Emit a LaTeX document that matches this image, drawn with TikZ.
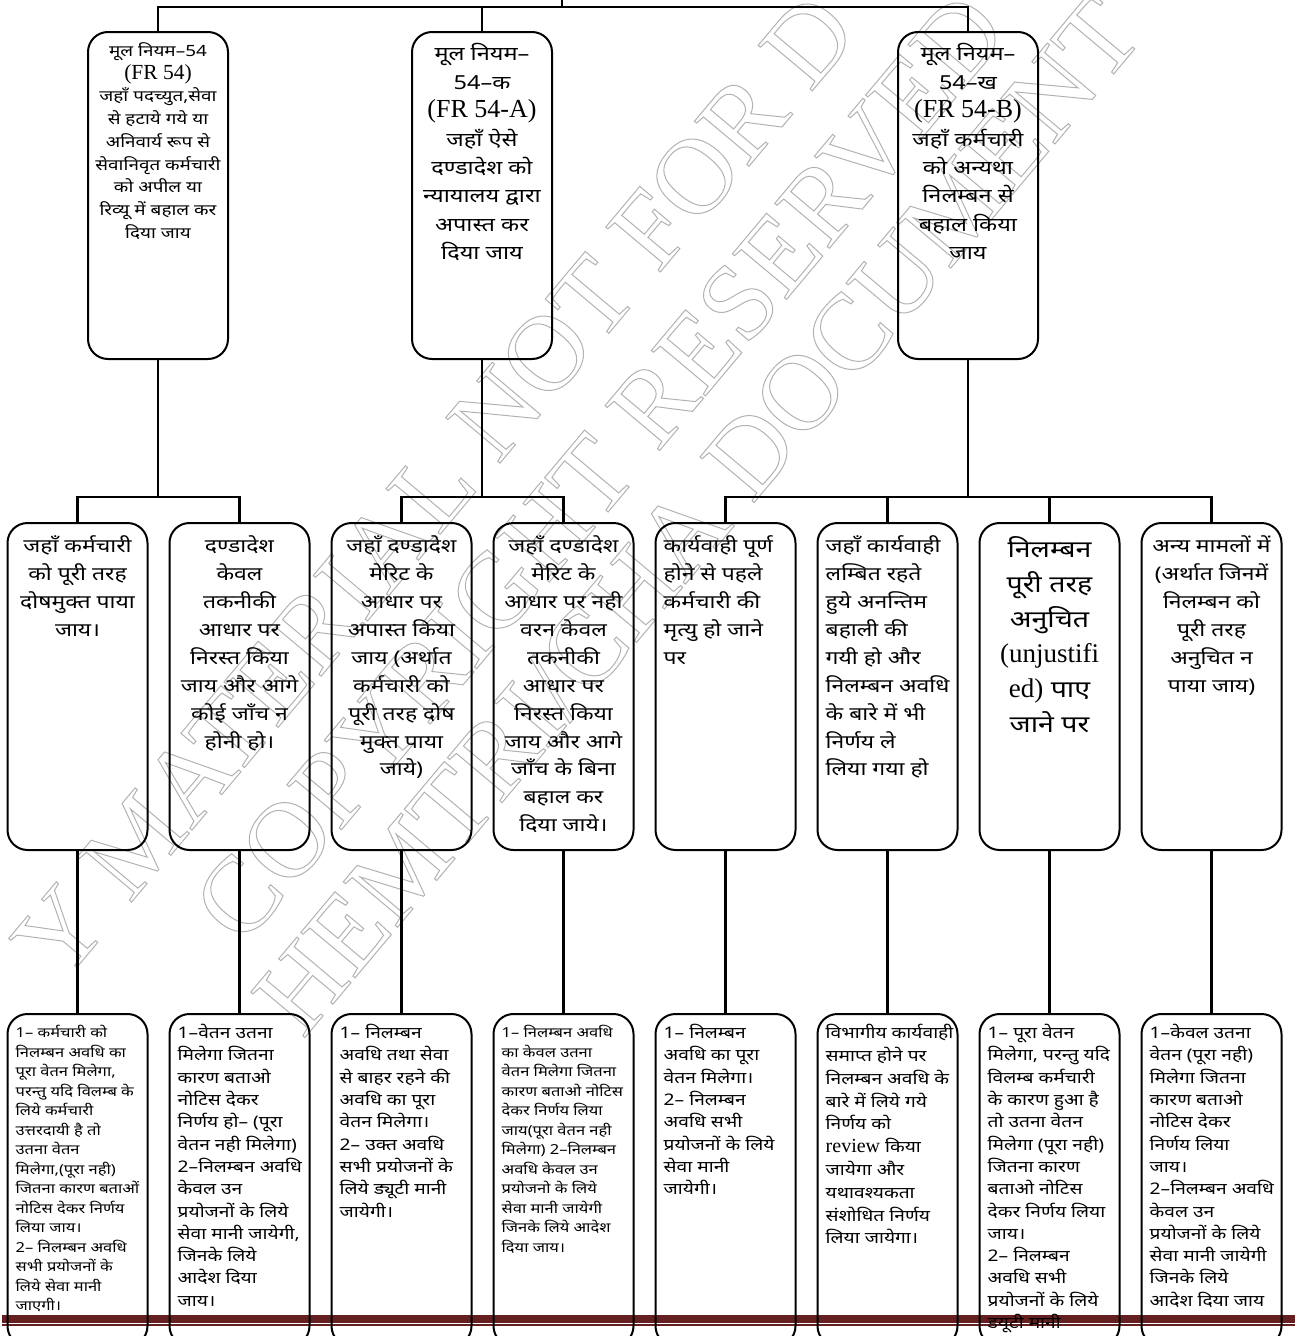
\documentclass[tikz,border=0pt]{standalone}
\usepackage{fontspec}
\setmainfont{Liberation Serif}
\newfontfamily\dvn[Script=Devanagari,FakeStretch=1.22]{Noto Sans}
\newfontfamily\dvs[Script=Devanagari,FakeStretch=1.2]{Noto Sans}
\newfontfamily\wmf{Liberation Serif}
\newcommand\myrule[1]{\rule{0pt}{#1pt}}
\newcommand\fixls{\lineskiplimit=-200pt\relax\lineskip=0pt\relax}
\newcommand\wmon{\special{pdf:literal direct 1 Tr 1 w}}
\newcommand\wmoff{\special{pdf:literal direct 0 Tr}}
\definecolor{bandred}{RGB}{100,32,32}
\tikzset{
  box/.style={draw, line width=2pt, rounded corners=20pt, minimum width=140pt, inner sep=0pt},
  topbox/.style={box, minimum height=327pt},
  midbox/.style={box, minimum height=327pt},
  botbox/.style={box, minimum height=332pt},
  conn/.style={line width=2.4pt},
  ttxt/.style={anchor=north, align=center, inner sep=0pt, font={\dvn\fontsize{19.3}{28.4}\selectfont\fixls}},
  ttxtsmall/.style={anchor=north, align=center, inner sep=0pt, font={\dvn\fontsize{15.5}{22.75}\selectfont\fixls}},
  mtxtc/.style={anchor=north, align=center, inner sep=0pt, font={\dvn\fontsize{18.8}{27.9}\selectfont\fixls}},
  mtxtl/.style={anchor=north west, align=left, inner sep=0pt, font={\dvn\fontsize{18.8}{27.9}\selectfont\fixls}},
  btxt/.style={anchor=north west, align=left, inner sep=0pt, font={\dvs\fontsize{16}{22.3}\selectfont\fixls}},
  btxtsm/.style={anchor=north west, align=left, inner sep=0pt, font={\dvs\fontsize{13.75}{19.5}\selectfont\fixls}},
  wm/.style={anchor=base west, rotate=50, inner sep=0pt, text=gray!60, font={\wmf\fontsize{108}{108}\selectfont}}
}
\begin{document}
\begin{tikzpicture}[x=1pt,y=-1pt]
\useasboundingbox (0,0) rectangle (1295,1336);
\clip (0,0) rectangle (1295,1336);
% watermark
\node[wm] (wmA) at (62,985) {\wmon Y MATERIAL NOT FOR D\wmoff};
\node[wm] (wmB) at (242.5,947.7) {\wmon COPYRIGHT RESERVED\wmoff};
\node[wm] (wmC) at (752,505) {\wmon DOCUMENT\wmoff};
\node[wm, anchor=base east] (wmC0) at (735,525) {\wmon HEMTRI/CHA\wmoff};
% bottom band
\fill[bandred] (2,1315) rectangle (1295,1322.5);
\fill[bandred] (2,1324.3) rectangle (1295,1326);
% top level boxes
\node[topbox] (T1) at (158,195.5) {};
\node[topbox] (T2) at (482,195.5) {};
\node[topbox] (T3) at (968,195.5) {};
% middle and bottom boxes
\foreach \i/\x in {1/77.5,2/239.5,3/401.5,4/563.5,5/725.5,6/887.5,7/1049.5,8/1211.5}{
  \node[midbox] (M\i) at (\x,686.5) {};
  \node[botbox] (B\i) at (\x,1180) {};
}
% connectors
\coordinate (root) at (562,0);
\coordinate (topbar) at (562,7);
\coordinate (mbar) at (0,497);
\draw[conn] (root) -- (topbar);
\draw[conn] (T1.north) -- (T1.north |- topbar) -- (T3.north |- topbar) -- (T3.north);
\draw[conn] (T2.north) -- (T2.north |- topbar);
\draw[conn] (T1.south) -- (T1.south |- mbar);
\draw[conn] (T2.south) -- (T2.south |- mbar);
\draw[conn] (T3.south) -- (T3.south |- mbar);
\draw[conn] (M1.north) -- (M1.north |- mbar) -- (M2.north |- mbar) -- (M2.north);
\draw[conn] (M3.north) -- (M3.north |- mbar) -- (M4.north |- mbar) -- (M4.north);
\draw[conn] (M5.north) -- (M5.north |- mbar) -- (M8.north |- mbar) -- (M8.north);
\draw[conn] (M6.north) -- (M6.north |- mbar);
\draw[conn] (M7.north) -- (M7.north |- mbar);
\foreach \i in {1,...,8}{\draw[conn] (M\i.south) -- (B\i.north);}
% top texts
\node[ttxtsmall] (T1t) at (158,39.2) {\myrule{17.05}मूल नियम–54\\
{\rmfamily\fontsize{21.5}{22.75}\selectfont (FR 54)}\\
जहाँ पदच्युत,सेवा\\
से हटाये गये या\\
अनिवार्य रूप से\\
सेवानिवृत कर्मचारी\\
को अपील या\\
रिव्यू में बहाल कर\\
दिया जाय};
\node[ttxt] (T2t) at (482,39.5) {\myrule{21.23}मूल नियम–\\
54–क\\
{\rmfamily\fontsize{26}{28.4}\selectfont (FR 54-A)}\\
जहाँ ऐसे\\
दण्डादेश को\\
न्यायालय द्वारा\\
अपास्त कर\\
दिया जाय};
\node[ttxt] (T3t) at (968,39.5) {\myrule{21.23}मूल नियम–\\
54–ख\\
{\rmfamily\fontsize{26}{28.4}\selectfont (FR 54-B)}\\
जहाँ कर्मचारी\\
को अन्यथा\\
निलम्बन से\\
बहाल किया\\
जाय};
% middle texts
\node[mtxtc] (M1t) at (77.5,531.8) {\myrule{20.7}जहाँ कर्मचारी\\को पूरी तरह\\दोषमुक्त पाया\\जाय।};
\node[mtxtc] (M2t) at (239.5,531.8) {\myrule{20.7}दण्डादेश\\केवल\\तकनीकी\\आधार पर\\निरस्त किया\\जाय और आगे\\कोई जाँच न\\होनी हो।};
\node[mtxtc] (M3t) at (401.5,531.8) {\myrule{20.7}जहाँ दण्डादेश\\मेरिट के\\आधार पर\\अपास्त किया\\जाय (अर्थात\\कर्मचारी को\\पूरी तरह दोष\\मुक्त पाया\\जाये)};
\node[mtxtc] (M4t) at (563.5,531.8) {\myrule{20.7}जहाँ दण्डादेश\\मेरिट के\\आधार पर नही\\वरन केवल\\तकनीकी\\आधार पर\\निरस्त किया\\जाय और आगे\\जाँच के बिना\\बहाल कर\\दिया जाये।};
\node[mtxtl] (M5t) at (663.5,531.8) {\myrule{20.7}कार्यवाही पूर्ण\\होने से पहले\\कर्मचारी की\\मृत्यु हो जाने\\पर};
\node[mtxtl] (M6t) at (825.5,531.8) {\myrule{20.7}जहाँ कार्यवाही\\लम्बित रहते\\हुये अनन्तिम\\बहाली की\\गयी हो और\\निलम्बन अवधि\\के बारे में भी\\निर्णय ले\\लिया गया हो};
\node[mtxtc, font={\dvn\fontsize{23.4}{35}\selectfont\fixls}] (M7t) at (1049.5,531.6) {\myrule{25.7}निलम्बन\\पूरी तरह\\अनुचित\\{\rmfamily\fontsize{27}{35}\selectfont (unjustifi}\\{\rmfamily\fontsize{27}{35}\selectfont ed)} पाए\\जाने पर};
\node[mtxtc] (M8t) at (1211.5,531.8) {\myrule{20.7}अन्य मामलों में\\(अर्थात जिनमें\\निलम्बन को\\पूरी तरह\\अनुचित न\\पाया जाय)};
% bottom texts
\node[btxtsm] (B1t) at (15.5,1022.4) {\myrule{15.1}1– कर्मचारी को\\निलम्बन अवधि का\\पूरा वेतन मिलेगा,\\परन्तु यदि विलम्ब के\\लिये कर्मचारी\\उत्तरदायी है तो\\उतना वेतन\\मिलेगा,(पूरा नही)\\जितना कारण बताओं\\नोटिस देकर निर्णय\\लिया जाय।\\2– निलम्बन अवधि\\सभी प्रयोजनों के\\लिये सेवा मानी\\जाएगी।};
\node[btxt] (B2t) at (177.5,1020.8) {\myrule{17.6}1–वेतन उतना\\मिलेगा जितना\\कारण बताओ\\नोटिस देकर\\निर्णय हो– (पूरा\\वेतन नही मिलेगा)\\2–निलम्बन अवधि\\केवल उन\\प्रयोजनों के लिये\\सेवा मानी जायेगी,\\जिनके लिये\\आदेश दिया\\जाय।};
\node[btxt] (B3t) at (339.5,1020.8) {\myrule{17.6}1– निलम्बन\\अवधि तथा सेवा\\से बाहर रहने की\\अवधि का पूरा\\वेतन मिलेगा।\\2– उक्त अवधि\\सभी प्रयोजनों के\\लिये ड्यूटी मानी\\जायेगी।};
\node[btxtsm] (B4t) at (501.5,1022.4) {\myrule{15.1}1– निलम्बन अवधि\\का केवल उतना\\वेतन मिलेगा जितना\\कारण बताओ नोटिस\\देकर निर्णय लिया\\जाय(पूरा वेतन नही\\मिलेगा) 2–निलम्बन\\अवधि केवल उन\\प्रयोजनो के लिये\\सेवा मानी जायेगी\\जिनके लिये आदेश\\दिया जाय।};
\node[btxt] (B5t) at (663.5,1020.8) {\myrule{17.6}1– निलम्बन\\अवधि का पूरा\\वेतन मिलेगा।\\2– निलम्बन\\अवधि सभी\\प्रयोजनों के लिये\\सेवा मानी\\जायेगी।};
\node[btxt, font={\dvs\fontsize{16}{22.8}\selectfont\fixls}] (B6t) at (825.5,1020.8) {\myrule{17.6}विभागीय कार्यवाही\\समाप्त होने पर\\निलम्बन अवधि के\\बारे में लिये गये\\निर्णय को\\{\rmfamily\fontsize{20}{22.8}\selectfont review} किया\\जायेगा और\\यथावश्यकता\\संशोधित निर्णय\\लिया जायेगा।};
\node[btxt] (B7t) at (987.5,1020.8) {\myrule{17.6}1– पूरा वेतन\\मिलेगा, परन्तु यदि\\विलम्ब कर्मचारी\\के कारण हुआ है\\तो उतना वेतन\\मिलेगा (पूरा नही)\\जितना कारण\\बताओ नोटिस\\देकर निर्णय लिया\\जाय।\\2– निलम्बन\\अवधि सभी\\प्रयोजनों के लिये\\डयूटी मानी};
\node[btxt] (B8t) at (1149.5,1020.8) {\myrule{17.6}1–केवल उतना\\वेतन (पूरा नही)\\मिलेगा जितना\\कारण बताओ\\नोटिस देकर\\निर्णय लिया\\जाय।\\2–निलम्बन अवधि\\केवल उन\\प्रयोजनों के लिये\\सेवा मानी जायेगी\\जिनके लिये\\आदेश दिया जाय};
\end{tikzpicture}
\end{document}
